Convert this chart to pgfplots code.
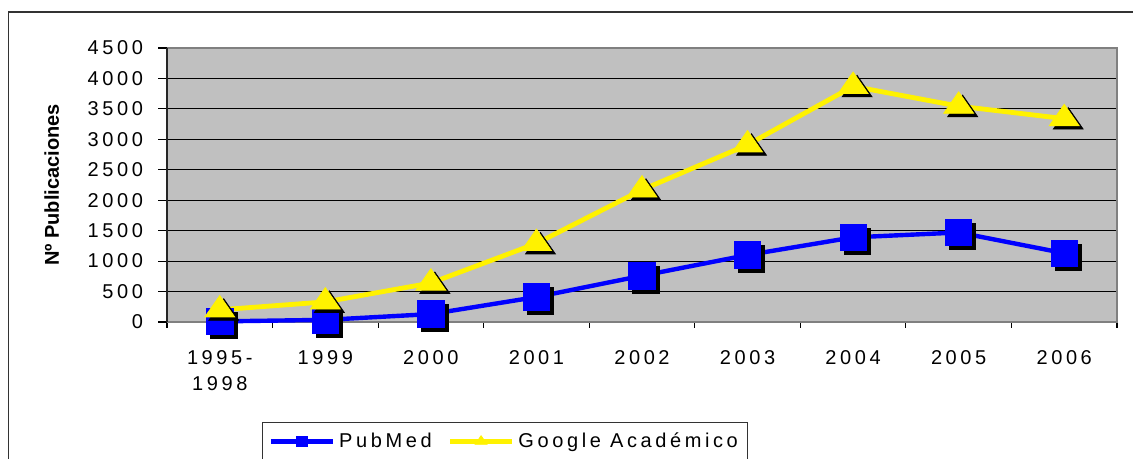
\documentclass[border=0pt]{standalone}
\usepackage{fontspec}
\setmainfont{Liberation Sans}
\newfontfamily\spaced[LetterSpace=18]{Liberation Sans}
\usepackage{pgfplots}
\pgfplotsset{compat=1.18}
\definecolor{plotgray}{HTML}{C0C0C0}
\definecolor{bordergray}{HTML}{808080}

\begin{document}
\begin{tikzpicture}
\begin{axis}[
    scale only axis, width=475pt, height=137pt,
    xmin=-0.5, xmax=8.5, ymin=0, ymax=4500,
    xtick={0,...,8},
    xticklabels={{1995-\\1998},1999,2000,2001,2002,2003,2004,2005,2006},
    minor xtick={-0.5,0.5,...,8.5},
    ytick={0,500,...,4500},
    xtick pos=bottom, ytick pos=left,
    ymajorgrids, grid style={black, line width=0.5pt},
    major x tick style={draw=none},
    tick align=outside, major tick length=4.5pt, minor tick length=3pt,
    tick style={black, line width=0.6pt},
    axis line style={draw=none},
    axis background/.style={fill=plotgray},
    clip=false,
    /pgf/number format/assume math mode=true,
    /pgf/number format/1000 sep={},
    ticklabel style={font=\spaced\fontsize{10}{13}\selectfont},
    xticklabel style={align=center, yshift=-6pt},
    yticklabel style={xshift=-4pt},
    ylabel={Nº Publicaciones},
    every axis y label/.style={at={(axis description cs:-0.1213,0.5)}, rotate=90, anchor=center, font=\bfseries\fontsize{10}{12}\selectfont},
    legend columns=2,
    legend style={at={(axis description cs:0.1002,-0.365)}, anchor=north west,
        draw=black!80, line width=0.6pt, inner ysep=3pt, inner xsep=3pt,
        font=\spaced\fontsize{10}{12}\selectfont,
        /tikz/column 2/.style={column sep=6pt}},
    legend image code/.code={
        \draw[#1] (0pt,0pt) -- (31pt,0pt);
        \draw[#1, every mark/.append style={scale=0.4}] plot coordinates {(15.5pt,0pt)};
    },
]
\draw[bordergray, line width=0.8pt] (rel axis cs:0,0) -- (rel axis cs:1,0) -- (rel axis cs:1,1) -- (rel axis cs:0,1);
\draw[black!85, line width=1pt] (rel axis cs:0,0) -- (rel axis cs:0,1);

% PubMed
\addplot[only marks, mark=square*, mark size=6.6pt, black, mark options={xshift=2pt, yshift=-2pt}, forget plot]
    coordinates {(0,10)(1,35)(2,130)(3,410)(4,760)(5,1100)(6,1390)(7,1470)(8,1130)};
\addplot[color=blue, line width=2.2pt, mark=square*, mark size=6.6pt, mark options={fill=blue, draw=blue, line width=0.4pt}]
    coordinates {(0,10)(1,35)(2,130)(3,410)(4,760)(5,1100)(6,1390)(7,1470)(8,1130)};

% Google Academico
\addplot[only marks, mark=triangle*, mark size=8.6pt, black, mark options={yscale=0.83, xshift=2pt, yshift=-2pt}, forget plot]
    coordinates {(0,200)(1,330)(2,640)(3,1290)(4,2170)(5,2910)(6,3870)(7,3545)(8,3340)};
\addplot[color=yellow, line width=2.4pt, mark=triangle*, mark size=8.6pt, mark options={yscale=0.83, fill=yellow, draw=yellow, line width=0.4pt}]
    coordinates {(0,200)(1,330)(2,640)(3,1290)(4,2170)(5,2910)(6,3870)(7,3545)(8,3340)};

\legend{PubMed, Google Académico}
\end{axis}
\draw[black!80, line width=0.6pt] (-79.25pt,-100pt) -- (-79.25pt,155pt) -- (600pt,155pt);
\pgfresetboundingbox
\path[use as bounding box] (-83.5pt,-68.5pt) rectangle (483pt,161pt);
\end{tikzpicture}
\end{document}
